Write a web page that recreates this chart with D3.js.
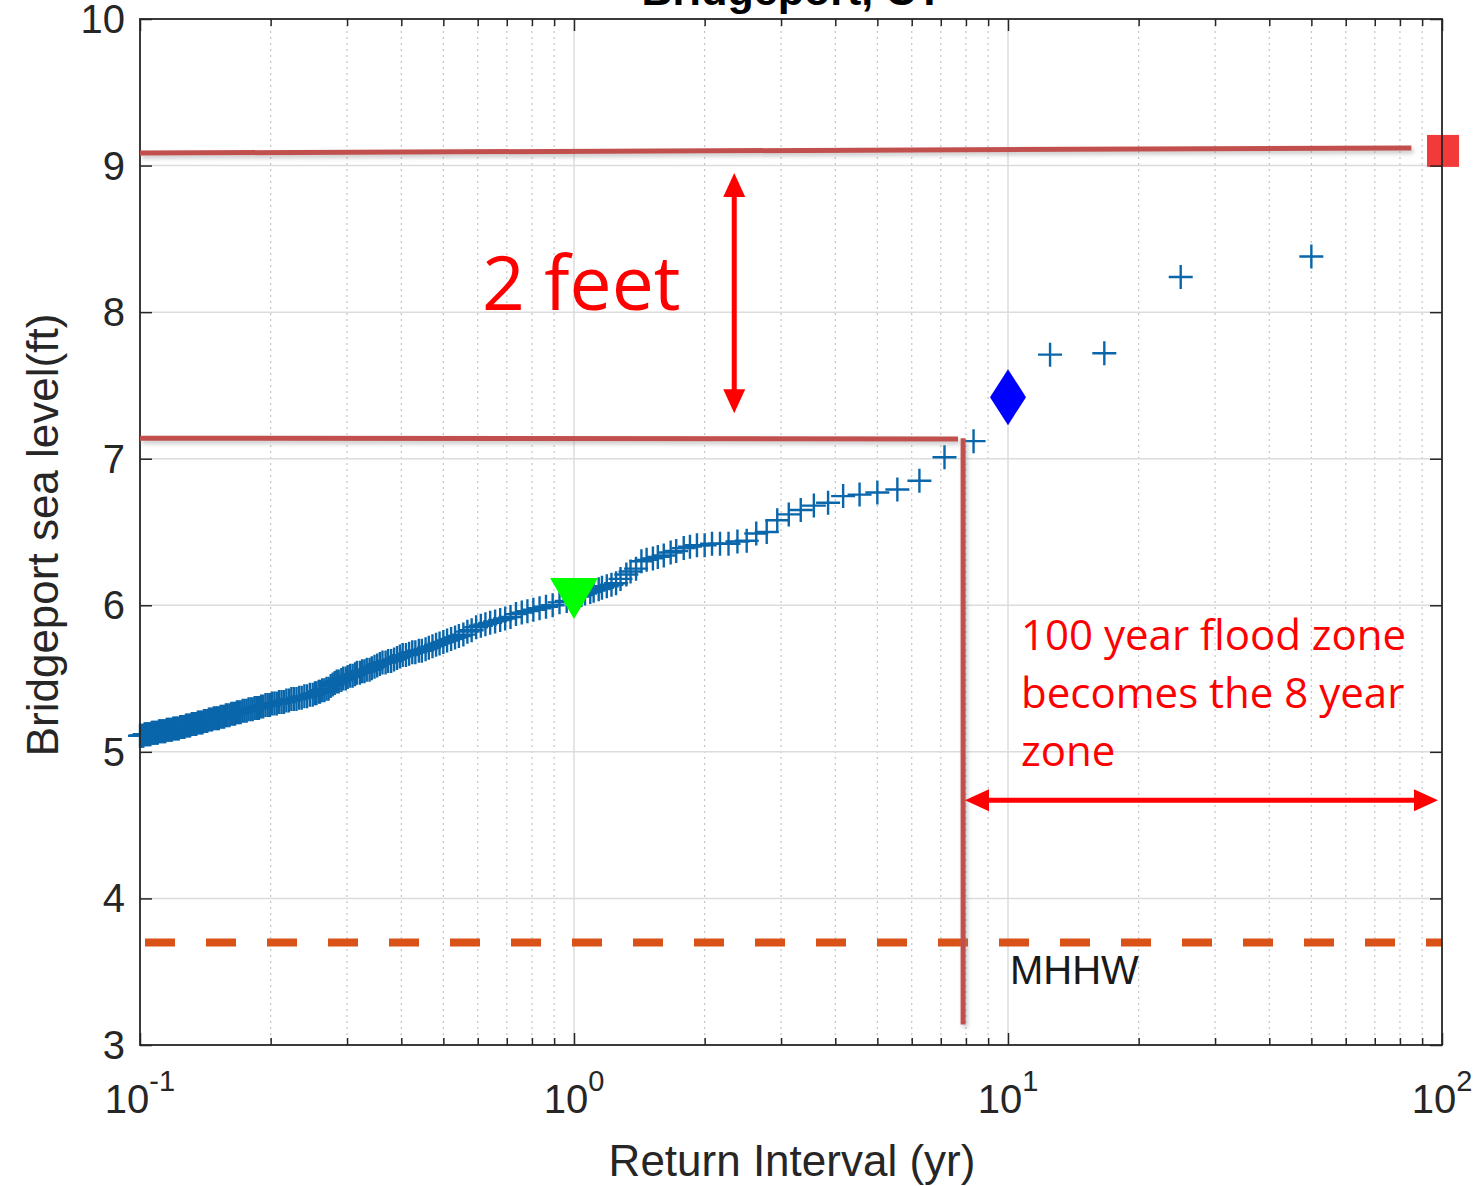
<!DOCTYPE html>
<html>
<head>
<meta charset="utf-8">
<script src="https://cdn.jsdelivr.net/npm/d3@7"></script>
<style>
  body { margin: 0; background: #fff; }
  svg { display: block; }
</style>
</head>
<body>
<svg id="chart" width="1481" height="1186"></svg>
<script>
// return interval (yr) and observed sea level (ft), ranked events
const returnInterval = [
  50, 25, 16.67, 12.5, 10, 8.33, 7.14, 6.25, 5.56, 5.0,
  4.55, 4.17, 3.85, 3.57, 3.33, 3.125, 2.94, 2.78, 2.63, 2.5,
  2.38, 2.27, 2.17, 2.08, 2.0, 1.92, 1.85, 1.79, 1.72, 1.67,
  1.61, 1.56, 1.52, 1.47, 1.43, 1.39, 1.35, 1.32, 1.28, 1.25,
  1.22, 1.19, 1.16, 1.14, 1.11, 1.09, 1.06, 1.04, 1.02, 1.0,
  0.962, 0.926, 0.893, 0.862, 0.833, 0.806, 0.781, 0.758, 0.735, 0.714,
  0.694, 0.676, 0.658, 0.641, 0.625, 0.610, 0.595, 0.581, 0.568, 0.556,
  0.543, 0.532, 0.521, 0.510, 0.500,
  0.490, 0.481, 0.472, 0.463, 0.455, 0.446, 0.439, 0.431, 0.424, 0.417,
  0.410, 0.403, 0.397, 0.391, 0.385, 0.379, 0.373, 0.368, 0.362, 0.357,
  0.352, 0.347, 0.342, 0.338, 0.333, 0.329, 0.325, 0.321, 0.316, 0.313,
  0.309, 0.305, 0.301, 0.298, 0.294, 0.291, 0.287, 0.284, 0.281, 0.278,
  0.275, 0.272, 0.269, 0.266, 0.263, 0.260, 0.258, 0.255, 0.253, 0.250,
  0.2463, 0.2427, 0.2392, 0.2358, 0.2326, 0.2294, 0.2262, 0.2232, 0.2203, 0.2174,
  0.2146, 0.2119, 0.2092, 0.2066, 0.2041, 0.2016, 0.1992, 0.1969, 0.1946, 0.1923,
  0.1901, 0.1880, 0.1859, 0.1838, 0.1818, 0.1799, 0.1779, 0.1761, 0.1742, 0.1724,
  0.1706, 0.1689, 0.1672, 0.1656, 0.1639, 0.1623, 0.1608, 0.1592, 0.1577, 0.1563,
  0.1548, 0.1534, 0.1520, 0.1506, 0.1493, 0.1479, 0.1466, 0.1453, 0.1441, 0.1429,
  0.1416, 0.1404, 0.1393, 0.1381, 0.1370, 0.1359, 0.1348, 0.1337, 0.1326, 0.1316,
  0.1305, 0.1295, 0.1285, 0.1276, 0.1266, 0.1256, 0.1247, 0.1238, 0.1229, 0.1220,
  0.1211, 0.1202, 0.1193, 0.1185, 0.1176, 0.1168, 0.1160, 0.1152, 0.1144, 0.1136,
  0.1129, 0.1121, 0.1114, 0.1106, 0.1099, 0.1092, 0.1085, 0.1078, 0.1071, 0.1064,
  0.1057, 0.1050, 0.1044, 0.1037, 0.1031, 0.1025, 0.1018, 0.1012, 0.1006, 0.1000
];
const seaLevel = [
  8.38, 8.24, 7.72, 7.71, 7.42, 7.12, 7.01, 6.85, 6.79, 6.77,
  6.755, 6.745, 6.70, 6.68, 6.65, 6.62, 6.58, 6.50, 6.49, 6.44,
  6.435, 6.42, 6.42, 6.42, 6.41, 6.41, 6.40, 6.39, 6.37, 6.36,
  6.34, 6.33, 6.32, 6.31, 6.30, 6.25, 6.23, 6.21, 6.18, 6.15,
  6.14, 6.13, 6.12, 6.11, 6.10, 6.09, 6.08, 6.07, 6.06, 6.05,
  6.03, 6.02, 6.00, 5.99, 5.98, 5.97, 5.96, 5.95, 5.94, 5.92,
  5.91, 5.90, 5.89, 5.88, 5.87, 5.86, 5.85, 5.83, 5.82, 5.80,
  5.79, 5.78, 5.77, 5.76, 5.75,
  5.74, 5.73, 5.72, 5.71, 5.70, 5.69, 5.69, 5.68, 5.68, 5.67,
  5.66, 5.66, 5.65, 5.64, 5.63, 5.62, 5.62, 5.61, 5.61, 5.60,
  5.59, 5.58, 5.57, 5.56, 5.56, 5.55, 5.55, 5.54, 5.54, 5.53,
  5.52, 5.52, 5.51, 5.50, 5.50, 5.49, 5.48, 5.48, 5.47, 5.46,
  5.45, 5.43, 5.43, 5.42, 5.42, 5.41, 5.41, 5.40, 5.40, 5.39,
  5.39, 5.38, 5.38, 5.37, 5.37, 5.36, 5.36, 5.36, 5.35, 5.35,
  5.34, 5.34, 5.34, 5.33, 5.33, 5.33, 5.32, 5.32, 5.32, 5.31,
  5.31, 5.30, 5.30, 5.30, 5.29, 5.29, 5.29, 5.28, 5.28, 5.28,
  5.27, 5.27, 5.27, 5.26, 5.26, 5.26, 5.25, 5.25, 5.25, 5.24,
  5.24, 5.24, 5.23, 5.23, 5.23, 5.23, 5.22, 5.22, 5.22, 5.21,
  5.21, 5.21, 5.20, 5.20, 5.20, 5.20, 5.19, 5.19, 5.19, 5.19,
  5.18, 5.18, 5.18, 5.18, 5.17, 5.17, 5.17, 5.17, 5.16, 5.16,
  5.16, 5.16, 5.16, 5.15, 5.15, 5.15, 5.15, 5.15, 5.14, 5.14,
  5.14, 5.14, 5.14, 5.14, 5.13, 5.13, 5.13, 5.13, 5.13, 5.13,
  5.12, 5.12, 5.12, 5.12, 5.12, 5.12, 5.11, 5.11, 5.11, 5.11
];

// special markers: 1-yr (triangle), 10-yr (diamond), 100-yr (square)
const oneYear = [1, 6.05];
const tenYear = [10, 7.42];
const hundredYear = [100, 9.1];
const mhhw = 3.7;

const yTicks = [3, 4, 5, 6, 7, 8, 9, 10];
const xTicks = [0.1, 1, 10, 100];
const xTickExp = ["-1", "0", "1", "2"];

// hand drawn annotation lines (return interval, level)
const floodLineT = [0.1, 85];
const floodLineLevel = [9.085, 9.12];
const shiftLineT = [0.1, 7.67];
const shiftLineLevel = [7.14, 7.135];
const dropLineT = [7.88, 7.88];
const dropLineLevel = [7.14, 3.14];
const feetArrowT = [2.34, 2.34];
const feetArrowLevel = [8.95, 7.31];
const zoneArrowT = [7.96, 97.9];
const zoneArrowLevel = [4.67, 4.67];

var svg = d3.select("#chart"),
    pL = 140, pR = 1442, pT = 19, pB = 1045;

var x = d3.scaleLog().domain([0.1, 100]).range([pL, pR]),
    y = d3.scaleLinear().domain([3, 10]).range([pB, pT]);

var defs = svg.append("defs");
var f = defs.append("filter").attr("id", "shadow")
    .attr("filterUnits", "userSpaceOnUse")
    .attr("x", 0).attr("y", 0).attr("width", 1481).attr("height", 1186);
f.append("feDropShadow").attr("dx", 2).attr("dy", 3).attr("stdDeviation", 2)
    .attr("flood-color", "#888").attr("flood-opacity", 0.45);

// minor grid
var minor = [];
[0.1, 1, 10].forEach(function (d) {
    for (var k = 2; k <= 9; k++) minor.push(d * k);
});

svg.append("g").selectAll("line").data(minor).join("line")
    .attr("x1", d => x(d)).attr("x2", d => x(d))
    .attr("y1", pT).attr("y2", pB)
    .attr("stroke", "#c4c4c4").attr("stroke-width", 1.2)
    .attr("stroke-dasharray", "2,4");

svg.append("g").selectAll("line").data(xTicks.slice(1, 3)).join("line")
    .attr("x1", d => x(d)).attr("x2", d => x(d))
    .attr("y1", pT).attr("y2", pB)
    .attr("stroke", "#dcdcdc").attr("stroke-width", 1.5);

svg.append("g").selectAll("line").data(yTicks.slice(1, -1)).join("line")
    .attr("x1", pL).attr("x2", pR)
    .attr("y1", d => y(d)).attr("y2", d => y(d))
    .attr("stroke", "#dcdcdc").attr("stroke-width", 1.5);

// MHHW
svg.append("line")
    .attr("x1", pL).attr("x2", pR)
    .attr("y1", y(mhhw)).attr("y2", y(mhhw))
    .attr("stroke", "#d95319").attr("stroke-width", 8)
    .attr("stroke-dasharray", "30,31").attr("stroke-dashoffset", 56);

svg.append("text").attr("x", 1010).attr("y", y(mhhw) + 42)
    .attr("font-family", "Liberation Sans, Arial, sans-serif")
    .attr("font-size", 40).attr("fill", "#1a1a1a").text("MHHW");

// data plus markers
var s = 12;
svg.append("g").selectAll("path").data(d3.range(returnInterval.length)).join("path")
    .attr("d", function (i) {
        var px = x(returnInterval[i]), py = y(seaLevel[i]);
        return "M" + (px - s) + "," + py + "H" + (px + s) + "M" + px + "," + (py - s) + "V" + (py + s);
    })
    .attr("stroke", "#0a66aa").attr("stroke-width", 2.4).attr("fill", "none");

// triangle (1 yr)
var tx = x(oneYear[0]), ty = y(oneYear[1]);
svg.append("path")
    .attr("d", "M" + (tx - 24) + "," + (ty - 20) + "L" + (tx + 24) + "," + (ty - 20) + "L" + tx + "," + (ty + 21) + "Z")
    .attr("fill", "#00ff00");

// diamond (10 yr)
var dx = x(tenYear[0]), dy = y(tenYear[1]);
svg.append("path")
    .attr("d", "M" + dx + "," + (dy - 28) + "L" + (dx + 18) + "," + dy + "L" + dx + "," + (dy + 28) + "L" + (dx - 18) + "," + dy + "Z")
    .attr("fill", "#0000ff");

// square (100 yr)
svg.append("rect")
    .attr("x", x(hundredYear[0]) - 15).attr("y", y(hundredYear[1]) - 16)
    .attr("width", 32).attr("height", 32)
    .attr("fill", "#f23a3a");

// frame + ticks
var axisColor = "#262626";
svg.append("g").attr("transform", "translate(0," + pB + ")")
    .call(d3.axisBottom(x).tickValues(xTicks).tickSize(-12).tickFormat(""))
    .call(g => g.select(".domain").remove());
svg.append("g").attr("transform", "translate(0," + pB + ")")
    .call(d3.axisBottom(x).tickValues(minor).tickSize(-7).tickFormat(""))
    .call(g => g.select(".domain").remove());
svg.append("g").attr("transform", "translate(0," + pT + ")")
    .call(d3.axisTop(x).tickValues(xTicks).tickSize(-12).tickFormat(""))
    .call(g => g.select(".domain").remove());
svg.append("g").attr("transform", "translate(0," + pT + ")")
    .call(d3.axisTop(x).tickValues(minor).tickSize(-7).tickFormat(""))
    .call(g => g.select(".domain").remove());
svg.append("g").attr("transform", "translate(" + pL + ",0)")
    .call(d3.axisLeft(y).tickValues(yTicks).tickSize(-12).tickFormat(""))
    .call(g => g.select(".domain").remove());
svg.append("g").attr("transform", "translate(" + pR + ",0)")
    .call(d3.axisRight(y).tickValues(yTicks).tickSize(-12).tickFormat(""))
    .call(g => g.select(".domain").remove());
svg.selectAll(".tick line").attr("stroke", axisColor).attr("stroke-width", 1.5);

svg.append("rect").attr("x", pL).attr("y", pT)
    .attr("width", pR - pL).attr("height", pB - pT)
    .attr("fill", "none").attr("stroke", axisColor).attr("stroke-width", 1.8);

// tick labels
var font = "Liberation Sans, Arial, Helvetica, sans-serif";
svg.append("g").selectAll("text").data(yTicks).join("text")
    .attr("x", 125).attr("y", d => y(d) + 14)
    .attr("text-anchor", "end").attr("font-family", font)
    .attr("font-size", 40).attr("fill", axisColor)
    .text(d => d);

var xl = svg.append("g").selectAll("text").data(xTicks).join("text")
    .attr("x", d => x(d)).attr("y", 1113)
    .attr("text-anchor", "middle").attr("font-family", font)
    .attr("fill", axisColor);
xl.append("tspan").attr("font-size", 40).text("10");
xl.append("tspan").attr("font-size", 29).attr("dy", -22).text((d, i) => xTickExp[i]);

// axis titles
svg.append("text").attr("x", 792).attr("y", 1176)
    .attr("text-anchor", "middle").attr("font-family", font)
    .attr("font-size", 44).attr("fill", axisColor)
    .text("Return Interval (yr)");

svg.append("text").attr("transform", "translate(58,535) rotate(-90)")
    .attr("text-anchor", "middle").attr("font-family", font)
    .attr("font-size", 44).attr("fill", axisColor)
    .text("Bridgeport sea level(ft)");

svg.append("text").attr("x", 792).attr("y", 5)
    .attr("text-anchor", "middle").attr("font-family", font)
    .attr("font-weight", "bold").attr("font-size", 43).attr("fill", "#000")
    .text("Bridgeport, CT");

// annotation lines
function annLine(ts, ls) {
    svg.append("line")
        .attr("x1", x(ts[0])).attr("y1", y(ls[0]))
        .attr("x2", x(ts[1])).attr("y2", y(ls[1]))
        .attr("stroke", "#c0504d").attr("stroke-width", 5)
        .attr("filter", "url(#shadow)");
}
annLine(floodLineT, floodLineLevel);
annLine(shiftLineT, shiftLineLevel);
annLine(dropLineT, dropLineLevel);

// double headed arrows
function arrow(ts, ls) {
    var x1 = x(ts[0]), y1 = y(ls[0]), x2 = x(ts[1]), y2 = y(ls[1]);
    var len = Math.hypot(x2 - x1, y2 - y1), ux = (x2 - x1) / len, uy = (y2 - y1) / len;
    var hl = 24, hw = 11;
    svg.append("line")
        .attr("x1", x1 + ux * hl * 0.8).attr("y1", y1 + uy * hl * 0.8)
        .attr("x2", x2 - ux * hl * 0.8).attr("y2", y2 - uy * hl * 0.8)
        .attr("stroke", "#ff0000").attr("stroke-width", 5);
    [[x1, y1, 1], [x2, y2, -1]].forEach(function (p) {
        var bx = p[0] + ux * hl * p[2], by = p[1] + uy * hl * p[2];
        svg.append("path")
            .attr("d", "M" + p[0] + "," + p[1] +
                "L" + (bx - uy * hw) + "," + (by + ux * hw) +
                "L" + (bx + uy * hw) + "," + (by - ux * hw) + "Z")
            .attr("fill", "#ff0000");
    });
}
arrow(feetArrowT, feetArrowLevel);
arrow(zoneArrowT, zoneArrowLevel);

// annotation text
var callout = "Open Sans, Lato, sans-serif";
svg.append("text").attr("x", 482).attr("y", 310)
    .attr("font-family", callout).attr("font-size", 75).attr("fill", "#ff0000")
    .text("2 feet");

svg.append("g").selectAll("text")
    .data(["100 year flood zone", "becomes the 8 year", "zone"]).join("text")
    .attr("x", 1021).attr("y", (d, i) => 650 + i * 58)
    .attr("font-family", callout).attr("font-size", 42).attr("fill", "#ff0000")
    .text(d => d);
</script>
</body>
</html>
